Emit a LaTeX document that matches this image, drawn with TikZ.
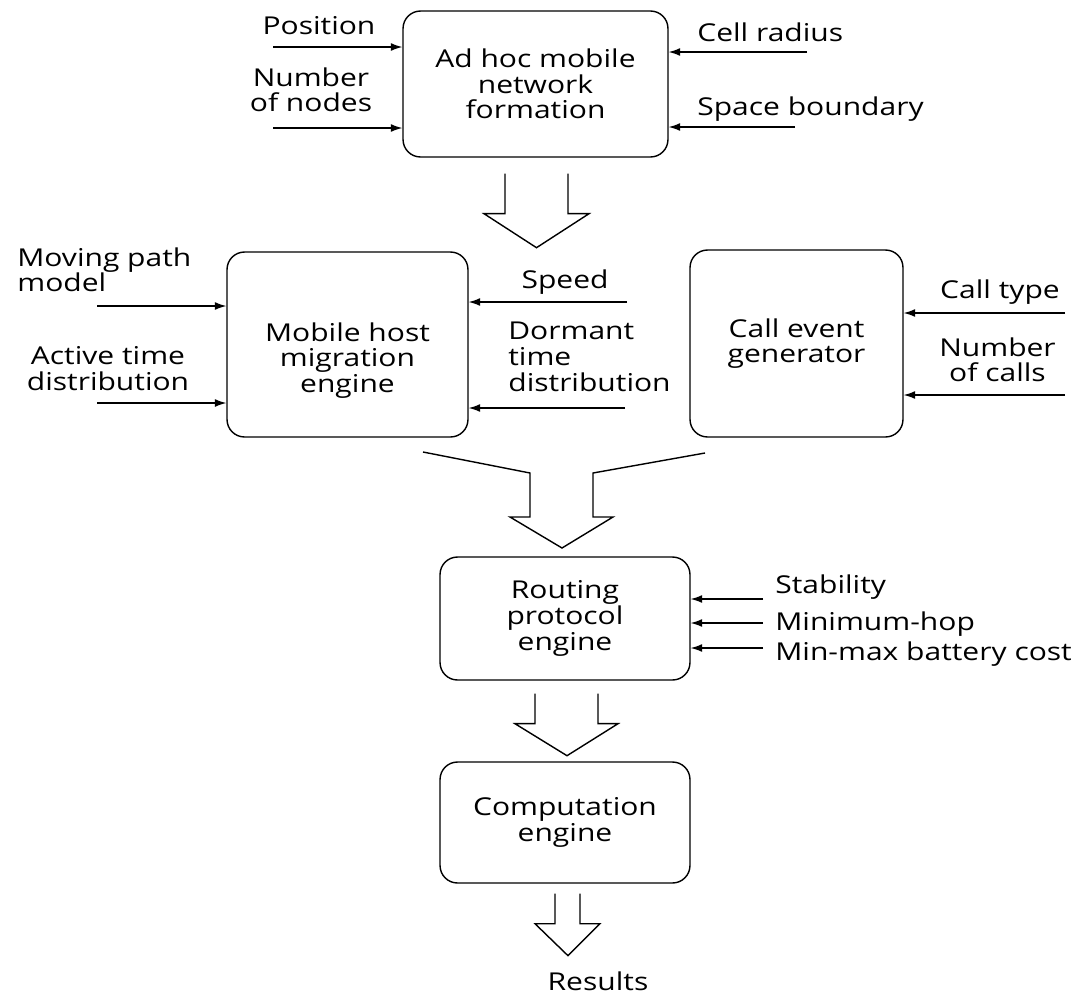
\documentclass[tikz,border=0pt]{standalone}
\usepackage{fontspec}
\setmainfont{Open Sans}[FakeStretch=1.22]
\usetikzlibrary{arrows.meta,positioning}

\begin{document}
\begin{tikzpicture}[x=0.02cm,y=-0.02cm,inner sep=0pt,
  font=\fontsize{14}{14.6}\selectfont,
  block/.style={draw,line width=0.8pt,rounded corners=0.35cm,align=center},
  lbl/.style={anchor=north,align=center},
  lblw/.style={anchor=north west,align=left},
  inarr/.style={-{Latex[length=6.5pt,width=4.5pt]},line width=0.7pt},
  hollow/.style={line width=0.8pt,line join=miter}]
\useasboundingbox (0,0) rectangle (1085,994);

% blocks
\node[block,minimum width=5.3cm,minimum height=2.92cm] (adhoc) at (535.5,84) {Ad hoc mobile\\network\\formation};
\node[block,minimum width=4.82cm,minimum height=3.7cm] (mobile) at (347.5,344.5) {};
\node[lbl] (mobile-t) at (mobile.center |- 0,322) {Mobile host\\migration\\engine};
\node[block,minimum width=4.26cm,minimum height=3.74cm] (callev) at (796.5,343.5) {Call event\\generator};
\node[block,minimum width=5cm,minimum height=2.46cm] (routing) at (565,618.5) {Routing\\protocol\\engine};
\node[block,minimum width=5cm,minimum height=2.42cm] (comput) at (565,822.5) {Computation\\engine};

% inputs
\node[lbl] (pos) at (319,16) {Position};
\node[lbl] (nnodes) at (311,67) {Number\\of nodes};
\node[lblw] (cellr) at (697,22) {Cell radius};
\node[lblw] (spaceb) at (697,96) {Space boundary};
\node[lblw] (mpath) at (17,247) {Moving path\\model};
\node[lbl] (active) at (108,346) {Active time\\distribution};
\node[lbl] (speed) at (565,269) {Speed};
\node[lblw] (dormant) at (508,322) {Dormant\\time\\distribution};
\node[lbl] (ctype) at (1000,279) {Call type};
\node[lbl] (ncalls) at (997.5,337) {Number\\of calls};
\node[lblw] (stab) at (775,574) {Stability};
\node[lblw] (minhop) at (775,611) {Minimum-hop};
\node[lblw] (minmax) at (775,641) {Min-max battery cost};
\node[lbl] (res) at (598,971) {Results};

\coordinate (pos-in) at (273,47);
\coordinate (nn-in) at (273,128);
\coordinate (cr-in) at (807,52);
\coordinate (sb-in) at (795,127);
\coordinate (mp-in) at (97,306);
\coordinate (at-in) at (97,403);
\coordinate (sp-in) at (627,302);
\coordinate (dt-in) at (625,408);
\coordinate (ct-in) at (1065,313);
\coordinate (nc-in) at (1065,395);
\coordinate (st-in) at (763,599);
\coordinate (mh-in) at (763,623);
\coordinate (mm-in) at (763,648);

\path (pos-in) edge[inarr] (adhoc.west |- pos-in);
\path (nn-in) edge[inarr] (adhoc.west |- nn-in);
\path (cr-in) edge[inarr] (adhoc.east |- cr-in);
\path (sb-in) edge[inarr] (adhoc.east |- sb-in);
\path (mp-in) edge[inarr] (mobile.west |- mp-in);
\path (at-in) edge[inarr] (mobile.west |- at-in);
\path (sp-in) edge[inarr] (mobile.east |- sp-in);
\path (dt-in) edge[inarr] (mobile.east |- dt-in);
\path (ct-in) edge[inarr] (callev.east |- ct-in);
\path (nc-in) edge[inarr] (callev.east |- nc-in);
\path (st-in) edge[inarr] (routing.east |- st-in);
\path (mh-in) edge[inarr] (routing.east |- mh-in);
\path (mm-in) edge[inarr] (routing.east |- mm-in);

% big hollow arrows
\draw[hollow] (adhoc.south) ++(-30.5,16) -- ++(0,40) -- ++(-21,0) -- ++(52.5,34) -- ++(52.5,-34) -- ++(-21,0) -- ++(0,-40);
\draw[hollow] (423,452) -- (530,473) -- (530,517) -- (510,517) -- (562,548) -- (613,517) -- (593,517) -- (593,473) -- (705,453);
\draw[hollow] (routing.south) ++(-30,13) -- ++(0,30) -- ++(-20,0) -- ++(52,32) -- ++(51,-32) -- ++(-20,0) -- ++(0,-30);
\draw[hollow] (comput.south) ++(-10,10) -- ++(0,30) -- ++(-20,0) -- ++(33,32) -- ++(32,-32) -- ++(-20,0) -- ++(0,-30);
\end{tikzpicture}
\end{document}
